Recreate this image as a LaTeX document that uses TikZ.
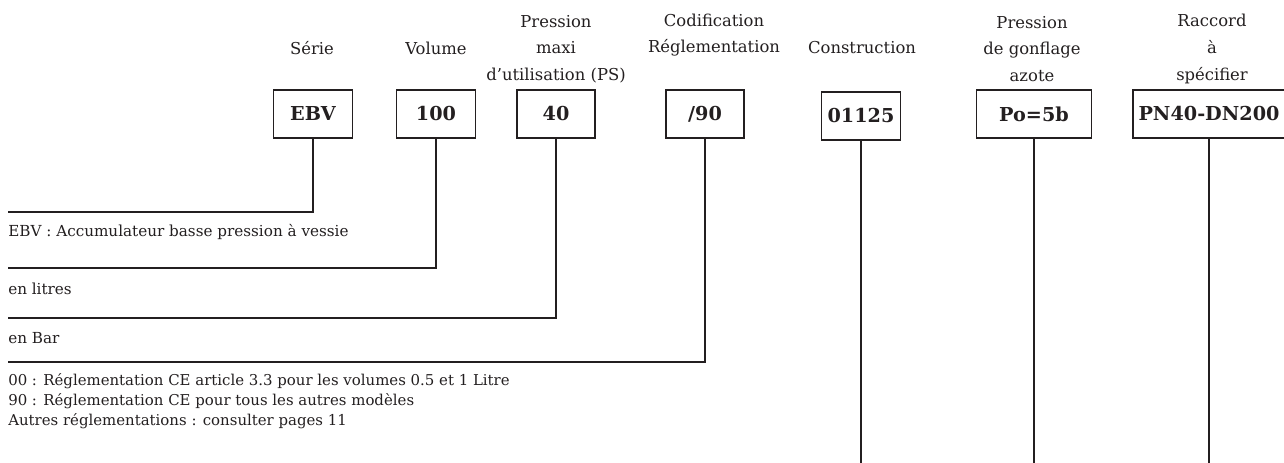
\documentclass[tikz,border=0pt]{standalone}
\usepackage{fontspec}
\usepackage{xcolor}
\usepackage{tikz}
\setmainfont{DejaVu Serif}
\definecolor{inkgray}{RGB}{35,31,32}

\begin{document}
\begin{tikzpicture}[x=0.75pt, y=-0.75pt, color=inkgray,
  code/.style={draw, line width=0.95pt, minimum height=36pt, inner sep=0pt, font=\fontsize{14.4}{16}\selectfont\bfseries},
  head/.style={align=center, font=\fontsize{12.3}{19.9}\selectfont},
  note/.style={anchor=west, inner sep=0pt, align=left, font=\fontsize{11.4}{15}\selectfont},
  leader/.style={line width=2.1pt}]
\useasboundingbox (0,0) rectangle (1284,463);

% Code boxes
\node[code, minimum width=59.25pt] (ser) at (313,114) {EBV};
\node[code, minimum width=59.25pt] (vol) at (436,114) {100};
\node[code, minimum width=58.5pt] (pres) at (556,114) {40};
\node[code, minimum width=58.5pt] (cod) at (705,114) {/90};
\node[code, minimum width=59.25pt] (cons) at (861,116) {01125};
\node[code, minimum width=86.25pt] (gonf) at (1034,114) {Po=5b};
\node[code, minimum width=114pt] (racc) at (1209,114) {PN40-DN200};

% Headings
\node[head] (ser-h) at (312,48) {Série};
\node[head] (vol-h) at (436,48) {Volume};
\node[head] (pres-h) at (556,49) {Pression\\maxi\\d’utilisation (PS)};
\node[head] (cod-h) at (714,35) {Codification\\Réglementation};
\node[head] (cons-h) at (862,48) {Construction};
\node[head] (gonf-h) at (1032,49) {Pression\\de gonflage\\azote};
\node[head] (racc-h) at (1212,49) {Raccord\\à\\spécifier};

% Leader ends
\coordinate (ser-end) at (8,212);
\coordinate (vol-end) at (8,268);
\coordinate (pres-end) at (8,318);
\coordinate (cod-end) at (8,362);
\coordinate (cons-end) at (861,463);
\coordinate (gonf-end) at (1034,463);
\coordinate (racc-end) at (1209,463);

% Leaders
\draw[leader] (ser.south) |- (ser-end);
\draw[leader] (vol.south) |- (vol-end);
\draw[leader] (pres.south) |- (pres-end);
\draw[leader] (cod.south) |- (cod-end);
\draw[leader] (cons.south) -- (cons-end);
\draw[leader] (gonf.south) -- (gonf-end);
\draw[leader] (racc.south) -- (racc-end);

% Notes
\node[note] (ser-n) at (8,232) {EBV : Accumulateur basse pression à vessie};
\node[note] (vol-n) at (8,289) {en litres};
\node[note] (pres-n) at (8,338) {en Bar};
\node[note, font=\fontsize{11.2}{15}\selectfont] (cod-n) at (8,401) {00 : Réglementation CE article 3.3 pour les volumes 0.5 et 1 Litre\\
  90 : Réglementation CE pour tous les autres modèles\\
  Autres réglementations : consulter pages 11};

\end{tikzpicture}
\end{document}
